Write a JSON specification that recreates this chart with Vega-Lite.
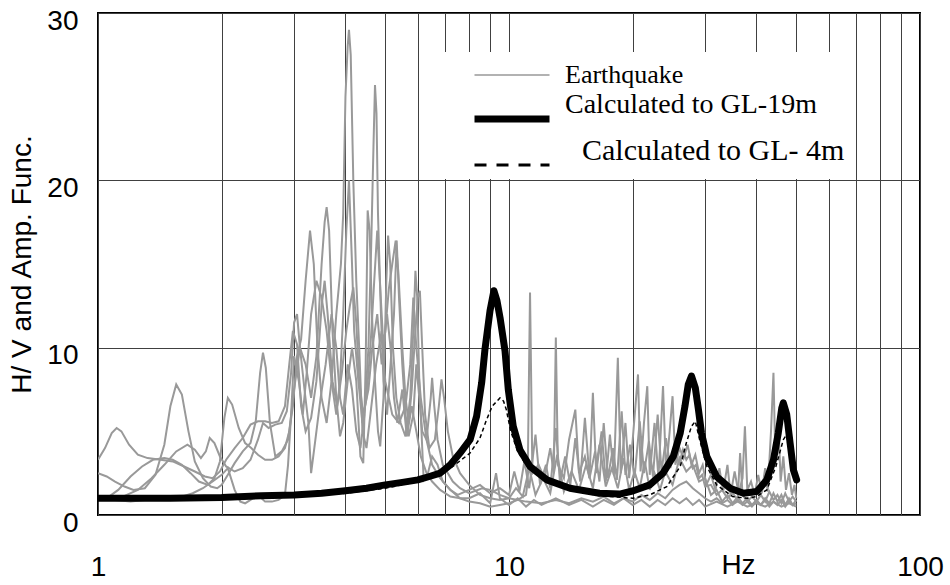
{
  "$schema": "https://vega.github.io/schema/vega-lite/v6.json",
  "autosize": {"type": "none"},
  "padding": {"left": 98, "top": 13, "right": 30, "bottom": 70},
  "width": 822,
  "height": 502,
  "background": "white",
  "config": {
    "view": {"stroke": "black", "strokeWidth": 2},
    "axis": {
      "labelFont": "Liberation Sans", "labelFontSize": 28, "labelColor": "black",
      "titleFont": "Liberation Sans", "titleFontSize": 28, "titleFontWeight": "normal", "titleColor": "black",
      "ticks": false, "tickSize": 0, "domain": false,
      "gridColor": "#404040", "gridWidth": 1, "gridOpacity": 1
    }
  },
  "datasets": {
    "eq": [
      {"t":1,"f":1.0,"v":3.3},{"t":1,"f":1.04,"v":4.0},{"t":1,"f":1.08,"v":4.9},{"t":1,"f":1.11,"v":5.2},{"t":1,"f":1.14,"v":5.0},{"t":1,"f":1.19,"v":4.2},{"t":1,"f":1.25,"v":3.6},{"t":1,"f":1.32,"v":3.4},{"t":1,"f":1.42,"v":3.3},{"t":1,"f":1.52,"v":3.2},{"t":1,"f":1.62,"v":2.9},{"t":1,"f":1.72,"v":2.6},{"t":1,"f":1.82,"v":2.3},{"t":1,"f":1.9,"v":2.2},{"t":1,"f":1.98,"v":2.6},{"t":1,"f":2.05,"v":3.3},{"t":1,"f":2.15,"v":4.0},{"t":1,"f":2.25,"v":4.6},{"t":1,"f":2.35,"v":5.4},{"t":1,"f":2.45,"v":5.6},{"t":1,"f":2.55,"v":5.6},{"t":1,"f":2.65,"v":5.5},{"t":1,"f":2.75,"v":5.6},{"t":1,"f":2.85,"v":6.5},{"t":1,"f":2.92,"v":9.0},{"t":1,"f":2.98,"v":11.0},{"t":1,"f":3.05,"v":10.2},{"t":1,"f":3.12,"v":6.5},{"t":1,"f":3.2,"v":5.0},{"t":1,"f":3.3,"v":5.8},{"t":1,"f":3.4,"v":8.0},{"t":1,"f":3.5,"v":12.5},{"t":1,"f":3.56,"v":14.0},{"t":1,"f":3.62,"v":12.0},{"t":1,"f":3.72,"v":8.0},{"t":1,"f":3.82,"v":6.5},{"t":1,"f":3.92,"v":8.5},{"t":1,"f":4.02,"v":11.0},{"t":1,"f":4.1,"v":12.5},{"t":1,"f":4.18,"v":13.6},{"t":1,"f":4.25,"v":11.5},{"t":1,"f":4.32,"v":8.0},{"t":1,"f":4.42,"v":6.0},{"t":1,"f":4.55,"v":7.5},{"t":1,"f":4.65,"v":10.0},{"t":1,"f":4.78,"v":12.0},{"t":1,"f":4.9,"v":9.0},{"t":1,"f":5.0,"v":11.0},{"t":1,"f":5.1,"v":13.5},{"t":1,"f":5.2,"v":15.0},{"t":1,"f":5.3,"v":16.4},{"t":1,"f":5.38,"v":14.5},{"t":1,"f":5.5,"v":10.0},{"t":1,"f":5.6,"v":7.0},{"t":1,"f":5.7,"v":5.5},{"t":1,"f":5.8,"v":7.5},{"t":1,"f":5.9,"v":10.5},{"t":1,"f":6.0,"v":13.0},{"t":1,"f":6.07,"v":13.4},{"t":1,"f":6.15,"v":10.0},{"t":1,"f":6.25,"v":6.0},{"t":1,"f":6.4,"v":4.0},{"t":1,"f":6.6,"v":4.5},{"t":1,"f":6.75,"v":6.5},{"t":1,"f":6.85,"v":8.1},{"t":1,"f":6.95,"v":7.0},{"t":1,"f":7.1,"v":5.0},{"t":1,"f":7.3,"v":3.5},{"t":1,"f":7.6,"v":2.5},{"t":1,"f":8.0,"v":1.8},{"t":1,"f":8.5,"v":1.2},{"t":1,"f":9.0,"v":1.0},{"t":1,"f":9.5,"v":0.9},{"t":1,"f":10,"v":1.0},{"t":1,"f":10.4,"v":1.6},{"t":1,"f":10.8,"v":1.1},{"t":1,"f":11.2,"v":2.8},{"t":1,"f":11.6,"v":1.2},{"t":1,"f":12.1,"v":2.2},{"t":1,"f":12.6,"v":1.3},{"t":1,"f":13.1,"v":3.6},{"t":1,"f":13.6,"v":1.4},{"t":1,"f":14.2,"v":2.6},{"t":1,"f":14.8,"v":1.5},{"t":1,"f":15.4,"v":3.0},{"t":1,"f":16.0,"v":1.6},{"t":1,"f":16.6,"v":4.2},{"t":1,"f":17.2,"v":1.7},{"t":1,"f":17.8,"v":2.8},{"t":1,"f":18.4,"v":1.6},{"t":1,"f":19.0,"v":3.4},{"t":1,"f":19.6,"v":1.5},{"t":1,"f":20.2,"v":2.6},{"t":1,"f":20.8,"v":1.6},{"t":1,"f":21.4,"v":3.2},{"t":1,"f":22.0,"v":1.5},{"t":1,"f":22.6,"v":2.5},{"t":1,"f":23.3,"v":1.5},{"t":1,"f":24,"v":2.6},{"t":1,"f":25,"v":1.8},{"t":1,"f":26,"v":3.4},{"t":1,"f":27,"v":2.6},{"t":1,"f":28,"v":3.0},{"t":1,"f":29,"v":2.0},{"t":1,"f":30,"v":2.2},{"t":1,"f":31,"v":1.2},{"t":1,"f":32,"v":1.5},{"t":1,"f":33,"v":0.8},{"t":1,"f":34,"v":1.2},{"t":1,"f":35,"v":0.7},{"t":1,"f":36,"v":1.1},{"t":1,"f":37,"v":0.7},{"t":1,"f":38,"v":1.0},{"t":1,"f":39,"v":0.6},{"t":1,"f":40,"v":0.9},{"t":1,"f":41,"v":0.6},{"t":1,"f":42,"v":1.0},{"t":1,"f":43,"v":0.7},{"t":1,"f":44,"v":1.3},{"t":1,"f":45,"v":0.8},{"t":1,"f":46,"v":1.2},{"t":1,"f":47,"v":0.6},{"t":1,"f":48,"v":1.0},{"t":1,"f":49,"v":0.6},{"t":1,"f":50,"v":0.9},

      {"t":2,"f":1.0,"v":2.5},{"t":2,"f":1.05,"v":2.3},{"t":2,"f":1.1,"v":2.0},{"t":2,"f":1.16,"v":1.7},{"t":2,"f":1.22,"v":1.5},{"t":2,"f":1.3,"v":1.6},{"t":2,"f":1.38,"v":2.4},{"t":2,"f":1.45,"v":4.2},{"t":2,"f":1.5,"v":6.5},{"t":2,"f":1.55,"v":7.8},{"t":2,"f":1.6,"v":7.2},{"t":2,"f":1.66,"v":5.0},{"t":2,"f":1.72,"v":3.2},{"t":2,"f":1.8,"v":2.2},{"t":2,"f":1.88,"v":1.7},{"t":2,"f":1.95,"v":1.6},{"t":2,"f":2.0,"v":1.8},{"t":2,"f":2.07,"v":2.4},{"t":2,"f":2.15,"v":3.1},{"t":2,"f":2.25,"v":3.8},{"t":2,"f":2.35,"v":4.3},{"t":2,"f":2.42,"v":5.6},{"t":2,"f":2.48,"v":8.5},{"t":2,"f":2.52,"v":9.7},{"t":2,"f":2.56,"v":8.8},{"t":2,"f":2.62,"v":5.5},{"t":2,"f":2.7,"v":3.5},{"t":2,"f":2.8,"v":3.8},{"t":2,"f":2.9,"v":4.5},{"t":2,"f":2.98,"v":6.5},{"t":2,"f":3.05,"v":9.5},{"t":2,"f":3.12,"v":10.5},{"t":2,"f":3.2,"v":14.0},{"t":2,"f":3.28,"v":17.0},{"t":2,"f":3.35,"v":15.0},{"t":2,"f":3.42,"v":10.0},{"t":2,"f":3.5,"v":7.0},{"t":2,"f":3.6,"v":5.5},{"t":2,"f":3.7,"v":8.0},{"t":2,"f":3.8,"v":12.0},{"t":2,"f":3.9,"v":15.0},{"t":2,"f":3.95,"v":18.0},{"t":2,"f":4.0,"v":25.0},{"t":2,"f":4.05,"v":28.0},{"t":2,"f":4.08,"v":29.0},{"t":2,"f":4.12,"v":27.5},{"t":2,"f":4.18,"v":20.0},{"t":2,"f":4.25,"v":14.0},{"t":2,"f":4.32,"v":10.0},{"t":2,"f":4.4,"v":5.0},{"t":2,"f":4.5,"v":4.0},{"t":2,"f":4.6,"v":6.0},{"t":2,"f":4.75,"v":9.0},{"t":2,"f":4.9,"v":11.0},{"t":2,"f":5.0,"v":8.0},{"t":2,"f":5.2,"v":6.0},{"t":2,"f":5.4,"v":5.5},{"t":2,"f":5.6,"v":6.5},{"t":2,"f":5.75,"v":9.0},{"t":2,"f":5.85,"v":13.0},{"t":2,"f":5.95,"v":10.0},{"t":2,"f":6.1,"v":7.0},{"t":2,"f":6.3,"v":4.5},{"t":2,"f":6.5,"v":3.0},{"t":2,"f":6.8,"v":2.2},{"t":2,"f":7.2,"v":1.5},{"t":2,"f":7.6,"v":1.0},{"t":2,"f":8.0,"v":0.8},{"t":2,"f":8.5,"v":0.7},{"t":2,"f":9.0,"v":0.5},{"t":2,"f":9.5,"v":0.6},{"t":2,"f":10,"v":0.7},{"t":2,"f":10.5,"v":0.9},{"t":2,"f":11,"v":1.2},{"t":2,"f":11.1,"v":2.0},{"t":2,"f":11.25,"v":13.3},{"t":2,"f":11.4,"v":2.5},{"t":2,"f":11.8,"v":3.0},{"t":2,"f":12.2,"v":2.2},{"t":2,"f":12.6,"v":4.0},{"t":2,"f":12.85,"v":2.5},{"t":2,"f":13,"v":10.6},{"t":2,"f":13.15,"v":3.0},{"t":2,"f":13.6,"v":2.2},{"t":2,"f":14.0,"v":4.5},{"t":2,"f":14.5,"v":6.3},{"t":2,"f":14.8,"v":2.5},{"t":2,"f":15.3,"v":3.5},{"t":2,"f":15.7,"v":2.2},{"t":2,"f":16,"v":7.3},{"t":2,"f":16.3,"v":2.5},{"t":2,"f":16.8,"v":5.0},{"t":2,"f":17.2,"v":2.0},{"t":2,"f":17.6,"v":4.8},{"t":2,"f":18.0,"v":2.4},{"t":2,"f":18.4,"v":9.4},{"t":2,"f":18.7,"v":2.5},{"t":2,"f":19.2,"v":5.5},{"t":2,"f":19.6,"v":2.2},{"t":2,"f":20.0,"v":4.5},{"t":2,"f":20.6,"v":8.4},{"t":2,"f":20.9,"v":2.6},{"t":2,"f":21.3,"v":5.5},{"t":2,"f":21.7,"v":7.7},{"t":2,"f":22.0,"v":2.4},{"t":2,"f":22.6,"v":5.5},{"t":2,"f":23.1,"v":2.2},{"t":2,"f":23.7,"v":7.7},{"t":2,"f":24.1,"v":2.6},{"t":2,"f":24.6,"v":5.0},{"t":2,"f":25.0,"v":7.1},{"t":2,"f":25.4,"v":3.0},{"t":2,"f":26,"v":4.0},{"t":2,"f":26.6,"v":3.4},{"t":2,"f":27.2,"v":4.2},{"t":2,"f":27.8,"v":3.0},{"t":2,"f":28.4,"v":3.6},{"t":2,"f":29,"v":2.5},{"t":2,"f":29.6,"v":3.0},{"t":2,"f":30.2,"v":1.8},{"t":2,"f":31,"v":2.4},{"t":2,"f":31.8,"v":1.5},{"t":2,"f":32.5,"v":2.8},{"t":2,"f":33.2,"v":1.4},{"t":2,"f":34,"v":3.0},{"t":2,"f":34.6,"v":1.2},{"t":2,"f":35.4,"v":2.6},{"t":2,"f":36.2,"v":1.3},{"t":2,"f":37,"v":2.2},{"t":2,"f":37.5,"v":5.3},{"t":2,"f":38,"v":1.5},{"t":2,"f":38.8,"v":2.0},{"t":2,"f":39.6,"v":1.2},{"t":2,"f":40.4,"v":2.4},{"t":2,"f":41.2,"v":1.3},{"t":2,"f":42,"v":2.8},{"t":2,"f":42.6,"v":1.4},{"t":2,"f":43.4,"v":5.0},{"t":2,"f":44,"v":8.5},{"t":2,"f":44.5,"v":3.0},{"t":2,"f":45.2,"v":5.8},{"t":2,"f":45.8,"v":2.0},{"t":2,"f":46.5,"v":3.5},{"t":2,"f":47.2,"v":1.5},{"t":2,"f":48,"v":2.5},{"t":2,"f":48.8,"v":1.2},{"t":2,"f":49.5,"v":1.8},{"t":2,"f":50,"v":1.0},

      {"t":3,"f":1.0,"v":0.9},{"t":3,"f":1.05,"v":1.0},{"t":3,"f":1.12,"v":1.5},{"t":3,"f":1.2,"v":2.3},{"t":3,"f":1.28,"v":2.9},{"t":3,"f":1.36,"v":3.3},{"t":3,"f":1.45,"v":3.4},{"t":3,"f":1.52,"v":3.3},{"t":3,"f":1.6,"v":3.0},{"t":3,"f":1.68,"v":2.5},{"t":3,"f":1.76,"v":2.0},{"t":3,"f":1.85,"v":1.8},{"t":3,"f":1.92,"v":2.2},{"t":3,"f":1.98,"v":3.2},{"t":3,"f":2.03,"v":5.8},{"t":3,"f":2.07,"v":7.0},{"t":3,"f":2.12,"v":6.6},{"t":3,"f":2.2,"v":5.2},{"t":3,"f":2.28,"v":4.3},{"t":3,"f":2.36,"v":4.0},{"t":3,"f":2.45,"v":3.6},{"t":3,"f":2.55,"v":3.3},{"t":3,"f":2.65,"v":3.3},{"t":3,"f":2.75,"v":3.5},{"t":3,"f":2.85,"v":4.0},{"t":3,"f":2.92,"v":5.0},{"t":3,"f":3.0,"v":7.5},{"t":3,"f":3.1,"v":10.0},{"t":3,"f":3.2,"v":9.0},{"t":3,"f":3.3,"v":7.0},{"t":3,"f":3.4,"v":9.5},{"t":3,"f":3.5,"v":15.0},{"t":3,"f":3.56,"v":17.5},{"t":3,"f":3.6,"v":18.4},{"t":3,"f":3.65,"v":17.0},{"t":3,"f":3.72,"v":11.0},{"t":3,"f":3.8,"v":7.0},{"t":3,"f":3.88,"v":4.7},{"t":3,"f":3.95,"v":5.5},{"t":3,"f":4.05,"v":8.0},{"t":3,"f":4.15,"v":10.0},{"t":3,"f":4.25,"v":8.0},{"t":3,"f":4.35,"v":3.5},{"t":3,"f":4.42,"v":3.1},{"t":3,"f":4.48,"v":9.0},{"t":3,"f":4.53,"v":18.2},{"t":3,"f":4.58,"v":17.0},{"t":3,"f":4.64,"v":12.0},{"t":3,"f":4.72,"v":8.0},{"t":3,"f":4.8,"v":5.0},{"t":3,"f":4.86,"v":4.1},{"t":3,"f":4.95,"v":7.0},{"t":3,"f":5.03,"v":14.0},{"t":3,"f":5.08,"v":16.7},{"t":3,"f":5.14,"v":15.0},{"t":3,"f":5.22,"v":10.0},{"t":3,"f":5.32,"v":7.0},{"t":3,"f":5.45,"v":5.5},{"t":3,"f":5.6,"v":4.7},{"t":3,"f":5.75,"v":7.0},{"t":3,"f":5.85,"v":11.0},{"t":3,"f":5.92,"v":14.6},{"t":3,"f":5.98,"v":13.0},{"t":3,"f":6.05,"v":8.0},{"t":3,"f":6.15,"v":4.0},{"t":3,"f":6.2,"v":2.1},{"t":3,"f":6.35,"v":2.5},{"t":3,"f":6.5,"v":3.5},{"t":3,"f":6.7,"v":3.0},{"t":3,"f":6.9,"v":2.0},{"t":3,"f":7.2,"v":1.5},{"t":3,"f":7.5,"v":1.2},{"t":3,"f":8.0,"v":1.5},{"t":3,"f":8.5,"v":1.8},{"t":3,"f":9.0,"v":1.3},{"t":3,"f":9.5,"v":1.6},{"t":3,"f":10,"v":1.2},{"t":3,"f":10.3,"v":2.6},{"t":3,"f":10.6,"v":1.4},{"t":3,"f":10.9,"v":3.2},{"t":3,"f":11.2,"v":1.6},{"t":3,"f":11.6,"v":4.8},{"t":3,"f":11.9,"v":1.8},{"t":3,"f":12.3,"v":3.0},{"t":3,"f":12.6,"v":1.6},{"t":3,"f":13.0,"v":5.2},{"t":3,"f":13.3,"v":2.0},{"t":3,"f":13.7,"v":3.5},{"t":3,"f":14.1,"v":1.8},{"t":3,"f":14.5,"v":4.6},{"t":3,"f":14.9,"v":2.0},{"t":3,"f":15.3,"v":5.8},{"t":3,"f":15.7,"v":2.2},{"t":3,"f":16.2,"v":3.8},{"t":3,"f":16.6,"v":2.0},{"t":3,"f":17.0,"v":5.5},{"t":3,"f":17.4,"v":2.2},{"t":3,"f":17.9,"v":4.0},{"t":3,"f":18.3,"v":2.1},{"t":3,"f":18.8,"v":6.2},{"t":3,"f":19.2,"v":2.4},{"t":3,"f":19.7,"v":4.2},{"t":3,"f":20.2,"v":2.2},{"t":3,"f":20.8,"v":5.6},{"t":3,"f":21.3,"v":2.5},{"t":3,"f":21.9,"v":4.4},{"t":3,"f":22.4,"v":2.3},{"t":3,"f":23.0,"v":6.0},{"t":3,"f":23.5,"v":2.6},{"t":3,"f":24.1,"v":4.6},{"t":3,"f":24.7,"v":2.8},{"t":3,"f":25.3,"v":4.2},{"t":3,"f":25.9,"v":3.0},{"t":3,"f":26.5,"v":3.9},{"t":3,"f":27,"v":3.3},{"t":3,"f":27.5,"v":3.6},{"t":3,"f":28,"v":2.8},{"t":3,"f":28.5,"v":3.0},{"t":3,"f":29,"v":2.2},{"t":3,"f":29.5,"v":2.4},{"t":3,"f":30,"v":1.7},{"t":3,"f":31,"v":1.8},{"t":3,"f":32,"v":1.2},{"t":3,"f":33,"v":1.5},{"t":3,"f":34,"v":1.0},{"t":3,"f":35,"v":1.3},{"t":3,"f":36,"v":0.9},{"t":3,"f":36.5,"v":3.7},{"t":3,"f":37,"v":1.2},{"t":3,"f":38,"v":0.8},{"t":3,"f":39,"v":1.1},{"t":3,"f":40,"v":0.8},{"t":3,"f":41,"v":1.2},{"t":3,"f":42,"v":0.8},{"t":3,"f":43,"v":1.4},{"t":3,"f":44,"v":0.9},{"t":3,"f":45,"v":1.2},{"t":3,"f":46,"v":0.7},{"t":3,"f":47,"v":1.3},{"t":3,"f":48,"v":0.8},{"t":3,"f":49,"v":1.1},{"t":3,"f":50,"v":0.8},

      {"t":4,"f":1.0,"v":1.0},{"t":4,"f":1.08,"v":1.0},{"t":4,"f":1.15,"v":1.1},{"t":4,"f":1.25,"v":1.5},{"t":4,"f":1.35,"v":2.2},{"t":4,"f":1.45,"v":3.0},{"t":4,"f":1.55,"v":3.8},{"t":4,"f":1.65,"v":4.2},{"t":4,"f":1.72,"v":3.9},{"t":4,"f":1.78,"v":3.4},{"t":4,"f":1.83,"v":3.8},{"t":4,"f":1.87,"v":4.6},{"t":4,"f":1.92,"v":4.3},{"t":4,"f":1.98,"v":3.5},{"t":4,"f":2.05,"v":2.9},{"t":4,"f":2.15,"v":2.6},{"t":4,"f":2.25,"v":2.8},{"t":4,"f":2.35,"v":3.3},{"t":4,"f":2.45,"v":4.5},{"t":4,"f":2.52,"v":5.5},{"t":4,"f":2.6,"v":5.2},{"t":4,"f":2.7,"v":5.4},{"t":4,"f":2.8,"v":5.5},{"t":4,"f":2.88,"v":6.2},{"t":4,"f":2.95,"v":8.5},{"t":4,"f":3.0,"v":11.5},{"t":4,"f":3.05,"v":12.0},{"t":4,"f":3.1,"v":10.0},{"t":4,"f":3.18,"v":7.5},{"t":4,"f":3.25,"v":5.5},{"t":4,"f":3.3,"v":2.5},{"t":4,"f":3.38,"v":4.5},{"t":4,"f":3.48,"v":7.0},{"t":4,"f":3.58,"v":9.0},{"t":4,"f":3.7,"v":12.0},{"t":4,"f":3.8,"v":10.0},{"t":4,"f":3.88,"v":7.0},{"t":4,"f":3.95,"v":6.0},{"t":4,"f":4.05,"v":9.0},{"t":4,"f":4.15,"v":7.5},{"t":4,"f":4.25,"v":5.0},{"t":4,"f":4.35,"v":4.0},{"t":4,"f":4.45,"v":6.0},{"t":4,"f":4.55,"v":10.0},{"t":4,"f":4.62,"v":16.0},{"t":4,"f":4.68,"v":22.0},{"t":4,"f":4.72,"v":25.7},{"t":4,"f":4.76,"v":24.0},{"t":4,"f":4.8,"v":18.0},{"t":4,"f":4.88,"v":12.0},{"t":4,"f":4.95,"v":8.0},{"t":4,"f":5.05,"v":6.0},{"t":4,"f":5.15,"v":9.0},{"t":4,"f":5.25,"v":12.0},{"t":4,"f":5.33,"v":16.4},{"t":4,"f":5.4,"v":13.0},{"t":4,"f":5.5,"v":9.0},{"t":4,"f":5.6,"v":6.0},{"t":4,"f":5.7,"v":4.7},{"t":4,"f":5.85,"v":6.0},{"t":4,"f":5.95,"v":9.0},{"t":4,"f":6.05,"v":7.0},{"t":4,"f":6.15,"v":5.0},{"t":4,"f":6.3,"v":4.5},{"t":4,"f":6.45,"v":7.0},{"t":4,"f":6.5,"v":8.2},{"t":4,"f":6.58,"v":6.5},{"t":4,"f":6.7,"v":4.5},{"t":4,"f":6.9,"v":3.0},{"t":4,"f":7.1,"v":2.5},{"t":4,"f":7.3,"v":2.0},{"t":4,"f":7.6,"v":1.6},{"t":4,"f":8.0,"v":1.3},{"t":4,"f":8.6,"v":1.6},{"t":4,"f":9.0,"v":1.5},{"t":4,"f":9.5,"v":1.2},{"t":4,"f":10,"v":1.0},{"t":4,"f":11,"v":0.8},{"t":4,"f":12,"v":0.7},{"t":4,"f":13,"v":0.9},{"t":4,"f":14,"v":0.7},{"t":4,"f":15,"v":1.0},{"t":4,"f":16,"v":0.8},{"t":4,"f":17,"v":1.1},{"t":4,"f":18,"v":0.7},{"t":4,"f":19,"v":1.0},{"t":4,"f":20,"v":0.8},{"t":4,"f":21,"v":1.2},{"t":4,"f":22,"v":0.9},{"t":4,"f":23,"v":1.3},{"t":4,"f":24,"v":1.0},{"t":4,"f":25,"v":1.5},{"t":4,"f":26,"v":1.8},{"t":4,"f":27,"v":2.0},{"t":4,"f":28,"v":1.6},{"t":4,"f":29,"v":1.3},{"t":4,"f":30,"v":1.0},{"t":4,"f":31,"v":0.8},{"t":4,"f":32,"v":1.0},{"t":4,"f":33,"v":0.7},{"t":4,"f":34,"v":0.9},{"t":4,"f":35,"v":0.6},{"t":4,"f":36,"v":0.9},{"t":4,"f":37,"v":0.6},{"t":4,"f":38,"v":0.8},{"t":4,"f":39,"v":0.5},{"t":4,"f":40,"v":0.8},{"t":4,"f":41,"v":0.6},{"t":4,"f":42,"v":0.9},{"t":4,"f":43,"v":0.5},{"t":4,"f":44,"v":0.8},{"t":4,"f":45,"v":0.6},{"t":4,"f":46,"v":0.9},{"t":4,"f":47,"v":0.5},{"t":4,"f":48,"v":0.8},{"t":4,"f":49,"v":0.6},{"t":4,"f":50,"v":0.7},

      {"t":5,"f":1.0,"v":1.1},{"t":5,"f":1.1,"v":0.9},{"t":5,"f":1.2,"v":0.8},{"t":5,"f":1.3,"v":0.9},{"t":5,"f":1.4,"v":1.0},{"t":5,"f":1.5,"v":1.0},{"t":5,"f":1.6,"v":1.1},{"t":5,"f":1.7,"v":1.3},{"t":5,"f":1.8,"v":1.6},{"t":5,"f":1.9,"v":2.0},{"t":5,"f":2.0,"v":2.4},{"t":5,"f":2.07,"v":2.8},{"t":5,"f":2.15,"v":1.5},{"t":5,"f":2.22,"v":0.8},{"t":5,"f":2.28,"v":0.7},{"t":5,"f":2.35,"v":0.9},{"t":5,"f":2.45,"v":1.2},{"t":5,"f":2.55,"v":0.8},{"t":5,"f":2.65,"v":0.8},{"t":5,"f":2.75,"v":0.9},{"t":5,"f":2.85,"v":1.2},{"t":5,"f":2.9,"v":3.0},{"t":5,"f":2.95,"v":6.0},{"t":5,"f":3.0,"v":9.5},{"t":5,"f":3.08,"v":8.0},{"t":5,"f":3.15,"v":6.0},{"t":5,"f":3.22,"v":8.5},{"t":5,"f":3.3,"v":12.0},{"t":5,"f":3.4,"v":14.0},{"t":5,"f":3.5,"v":13.0},{"t":5,"f":3.6,"v":11.0},{"t":5,"f":3.7,"v":8.0},{"t":5,"f":3.8,"v":6.0},{"t":5,"f":3.88,"v":8.0},{"t":5,"f":3.95,"v":12.0},{"t":5,"f":4.02,"v":17.0},{"t":5,"f":4.08,"v":20.0},{"t":5,"f":4.15,"v":15.0},{"t":5,"f":4.2,"v":11.0},{"t":5,"f":4.3,"v":8.0},{"t":5,"f":4.4,"v":5.5},{"t":5,"f":4.5,"v":7.0},{"t":5,"f":4.6,"v":10.0},{"t":5,"f":4.7,"v":14.0},{"t":5,"f":4.78,"v":17.0},{"t":5,"f":4.85,"v":14.0},{"t":5,"f":4.95,"v":10.0},{"t":5,"f":5.05,"v":12.0},{"t":5,"f":5.15,"v":10.0},{"t":5,"f":5.25,"v":7.0},{"t":5,"f":5.35,"v":5.5},{"t":5,"f":5.5,"v":7.5},{"t":5,"f":5.64,"v":4.7},{"t":5,"f":5.8,"v":6.5},{"t":5,"f":5.95,"v":5.0},{"t":5,"f":6.1,"v":3.5},{"t":5,"f":6.3,"v":2.5},{"t":5,"f":6.5,"v":2.0},{"t":5,"f":6.8,"v":1.5},{"t":5,"f":7.2,"v":1.1},{"t":5,"f":7.6,"v":1.0},{"t":5,"f":8.0,"v":1.0},{"t":5,"f":8.5,"v":1.3},{"t":5,"f":9.0,"v":0.7},{"t":5,"f":9.3,"v":2.5},{"t":5,"f":9.5,"v":1.0},{"t":5,"f":10,"v":0.6},{"t":5,"f":10.5,"v":1.0},{"t":5,"f":11,"v":0.5},{"t":5,"f":11.5,"v":0.9},{"t":5,"f":12,"v":0.6},{"t":5,"f":13,"v":1.0},{"t":5,"f":14,"v":0.6},{"t":5,"f":15,"v":0.9},{"t":5,"f":16,"v":0.5},{"t":5,"f":17,"v":0.9},{"t":5,"f":18,"v":0.6},{"t":5,"f":19,"v":1.0},{"t":5,"f":20,"v":0.6},{"t":5,"f":21,"v":0.9},{"t":5,"f":22,"v":0.5},{"t":5,"f":23,"v":0.9},{"t":5,"f":24,"v":0.6},{"t":5,"f":25,"v":1.0},{"t":5,"f":26,"v":0.7},{"t":5,"f":27,"v":1.0},{"t":5,"f":28,"v":0.6},{"t":5,"f":29,"v":0.9},{"t":5,"f":30,"v":0.5},{"t":5,"f":32,"v":0.8},{"t":5,"f":34,"v":0.5},{"t":5,"f":36,"v":0.8},{"t":5,"f":38,"v":0.5},{"t":5,"f":40,"v":0.7},{"t":5,"f":42,"v":0.5},{"t":5,"f":44,"v":0.8},{"t":5,"f":46,"v":0.5},{"t":5,"f":48,"v":0.7},{"t":5,"f":50,"v":0.5}
    ],
    "gl19": [
      {"f":1.0,"v":1.0},{"f":1.5,"v":1.0},{"f":2.0,"v":1.05},{"f":2.5,"v":1.15},{"f":3.0,"v":1.2},{"f":3.5,"v":1.3},{"f":4.0,"v":1.45},{"f":4.5,"v":1.6},{"f":5.0,"v":1.8},{"f":5.5,"v":1.95},{"f":6.0,"v":2.1},{"f":6.4,"v":2.3},{"f":6.8,"v":2.5},{"f":7.2,"v":3.0},{"f":7.6,"v":3.7},{"f":8.04,"v":4.5},{"f":8.34,"v":5.9},{"f":8.58,"v":7.9},{"f":8.74,"v":9.9},{"f":8.99,"v":12.2},{"f":9.19,"v":13.4},{"f":9.35,"v":12.8},{"f":9.51,"v":11.8},{"f":9.78,"v":9.8},{"f":9.96,"v":7.5},{"f":10.24,"v":5.3},{"f":10.63,"v":3.9},{"f":11.25,"v":2.9},{"f":12.36,"v":2.1},{"f":14.07,"v":1.6},{"f":16.6,"v":1.3},{"f":18.6,"v":1.25},{"f":20.07,"v":1.45},{"f":22.0,"v":1.8},{"f":23.7,"v":2.5},{"f":25.1,"v":3.5},{"f":26.1,"v":4.9},{"f":26.8,"v":6.5},{"f":27.3,"v":7.8},{"f":27.8,"v":8.3},{"f":28.4,"v":7.6},{"f":28.9,"v":6.3},{"f":29.4,"v":4.9},{"f":30.3,"v":3.5},{"f":32.0,"v":2.3},{"f":34.5,"v":1.6},{"f":37.2,"v":1.3},{"f":40.1,"v":1.4},{"f":42.4,"v":2.1},{"f":44.0,"v":3.3},{"f":45.2,"v":4.9},{"f":46.1,"v":6.4},{"f":46.5,"v":6.7},{"f":47.4,"v":6.0},{"f":48.3,"v":4.3},{"f":49.2,"v":2.7},{"f":50.1,"v":2.1}
    ],
    "gl4": [
      {"f":1.0,"v":1.0},{"f":2.0,"v":1.0},{"f":3.0,"v":1.1},{"f":4.0,"v":1.3},{"f":5.0,"v":1.6},{"f":6.0,"v":2.0},{"f":6.8,"v":2.5},{"f":7.3,"v":2.9},{"f":8.04,"v":3.7},{"f":8.5,"v":4.6},{"f":8.79,"v":5.6},{"f":9.1,"v":6.5},{"f":9.51,"v":7.0},{"f":9.7,"v":6.8},{"f":9.85,"v":6.3},{"f":10.1,"v":5.0},{"f":10.5,"v":3.8},{"f":11.0,"v":3.0},{"f":12.0,"v":2.2},{"f":14.0,"v":1.5},{"f":16.6,"v":1.15},{"f":20.0,"v":1.0},{"f":22.0,"v":1.2},{"f":24.2,"v":1.7},{"f":26.1,"v":2.9},{"f":27.0,"v":4.3},{"f":27.8,"v":5.3},{"f":28.4,"v":5.6},{"f":29.1,"v":4.5},{"f":30.3,"v":2.9},{"f":32.0,"v":1.8},{"f":35.0,"v":1.1},{"f":38.0,"v":1.0},{"f":40.0,"v":1.1},{"f":42.4,"v":1.5},{"f":44.6,"v":2.9},{"f":46.5,"v":4.5},{"f":47.3,"v":4.8},{"f":48.0,"v":3.8},{"f":48.7,"v":2.7},{"f":50.0,"v":2.0}
    ]
  },
  "encoding": {
    "x": {
      "field": "f", "type": "quantitative",
      "scale": {"type": "log", "domain": [1, 100], "nice": false},
      "axis": {
        "values": [1,2,3,4,5,6,7,8,9,10,20,30,40,50,60,70,80,90,100],
        "labelExpr": "datum.value == 1 || datum.value == 10 || datum.value == 100 ? format(datum.value, 'd') : ''",
        "labelBaseline": "alphabetic", "labelPadding": 60, "labelFlush": false,
        "grid": true,
        "title": "Hz", "titleX": 640, "titleY": 58, "titleBaseline": "alphabetic", "titleAlign": "center", "titleAnchor": null
      }
    },
    "y": {
      "field": "v", "type": "quantitative",
      "scale": {"domain": [0, 30], "nice": false, "zero": true},
      "axis": {
        "values": [0, 10, 20, 30], "grid": true,
        "labelPadding": 20, "labelOffset": 8, "labelFlush": false,
        "title": "H/ V and Amp. Func.", "titleX": -76, "titleY": 251, "titleAngle": -90,
        "titleBaseline": "middle", "titleAlign": "center"
      }
    }
  },
  "layer": [
    {
      "data": {"name": "eq"},
      "mark": {"type": "line", "strokeWidth": 2, "clip": true},
      "encoding": {
        "detail": {"field": "t", "type": "nominal"},
        "color": {
          "datum": "Earthquake",
          "scale": {"domain": ["Earthquake", "Calculated to GL-19m", "Calculated to GL- 4m"], "range": ["#999999", "#000000", "#000000"]},
          "legend": {
            "orient": "none", "legendX": 336, "legendY": 39, "title": null,
            "fillColor": "white", "padding": 8, "strokeColor": null,
            "symbolType": "stroke", "symbolSize": 5625, "symbolOffset": 55,
            "labelFont": "Liberation Serif", "labelFontSize": 26, "labelColor": "black",
            "labelOffset": 38, "labelLimit": 500, "rowPadding": 3,
            "encode": {
              "symbols": {"update": {
                "stroke": {"signal": "datum.value === 'Earthquake' ? '#6f6fa8' : '#000000'"},
                "strokeWidth": {"signal": "datum.value === 'Earthquake' ? 1.5 : datum.value === 'Calculated to GL-19m' ? 7 : 3"},
                "strokeDash": {"signal": "datum.value === 'Calculated to GL- 4m' ? [12, 10] : [1, 0]"}
              }},
              "labels": {"update": {
                "fontSize": {"signal": "datum.value === 'Earthquake' ? 26 : datum.value === 'Calculated to GL-19m' ? 28 : 30"},
                "dx": {"signal": "datum.value === 'Calculated to GL- 4m' ? 17 : 0"},
                "dy": {"signal": "datum.value === 'Earthquake' ? 0 : datum.value === 'Calculated to GL-19m' ? -14 : -14"}
              }}
            }
          }
        }
      }
    },
    {
      "data": {"name": "gl19"},
      "mark": {"type": "line", "strokeWidth": 7, "strokeJoin": "round", "strokeCap": "round", "clip": true},
      "encoding": {"color": {"datum": "Calculated to GL-19m"}}
    },
    {
      "data": {"name": "gl4"},
      "mark": {"type": "line", "strokeWidth": 1.5, "strokeDash": [4, 3], "clip": true},
      "encoding": {"color": {"datum": "Calculated to GL- 4m"}}
    }
  ]
}
